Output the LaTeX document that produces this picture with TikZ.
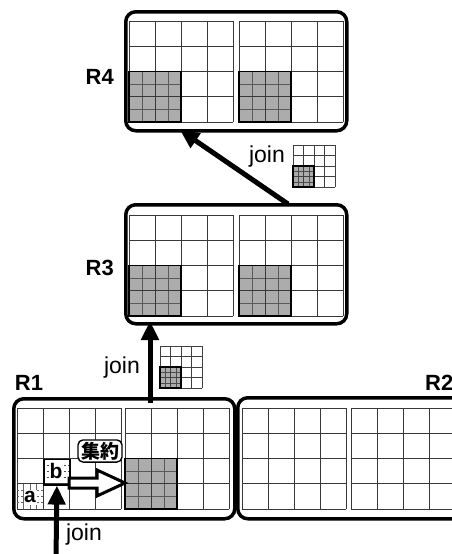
\documentclass[tikz,border=0pt]{standalone}
\usepackage{fontspec}
\setmainfont{Liberation Sans}
\newfontfamily\cjk{Noto Sans CJK JP}
\usetikzlibrary{arrows.meta}
\definecolor{blockgray}{RGB}{172,172,172}
\tikzset{
  gridline/.style={line width=0.9pt, draw=black!78},
  subline/.style={line width=0.7pt, draw=black!65},
  blockedge/.style={line width=1.8pt, draw=black},
  regionbox/.style={draw, line width=3.5pt, rounded corners=10pt, inner sep=0pt,
    anchor=north west, minimum width=221pt, minimum height=119pt},
  reglabel/.style={font=\fontsize{22}{24}\selectfont\bfseries, inner sep=0pt},
  joinlabel/.style={font=\fontsize{23}{25}\selectfont, inner sep=0pt},
  celllabel/.style={font=\fontsize{21}{23}\selectfont\bfseries, fill=white, inner sep=0pt},
  bigarrow/.style={line width=5pt, -{Triangle[width=17pt,length=19pt]}},
  hollowarrow/.style={draw, fill=white, line width=3pt, line join=miter},
  taglabel/.style={draw, line width=1.4pt, rounded corners=5pt, fill=white,
    font=\cjk\fontsize{19}{21}\selectfont\bfseries, inner xsep=3pt, inner ysep=2pt}
}
% one 4x4 tile (104 x 101); #3=1 adds the shaded 2x2 block with its 4x4 sub-cells
\newcommand\tile[3]{%
  \begin{scope}[shift={(#1,#2)}]
    \ifnum#3=1
      \fill[blockgray] (0,50.5) rectangle (52,101);
      \foreach \k in {1,2,3} {
        \draw[subline] (\k*13,50.5) -- (\k*13,101);
        \draw[subline] (0,50.5+\k*12.625) -- (52,50.5+\k*12.625);
      }
    \fi
    \foreach \k in {0,...,4} {
      \draw[gridline] (\k*26,0) -- (\k*26,101);
      \draw[gridline] (0,\k*25.25) -- (104,\k*25.25);
    }
    \ifnum#3=1 \draw[blockedge] (0,50.5) rectangle (52,101); \fi
  \end{scope}}
% small 4x4 tile used beside the join arrows
\newcommand\minitile[2]{%
  \begin{scope}[shift={(#1,#2)}]
    \fill[blockgray] (0,21) rectangle (21,42);
    \foreach \k in {1,2,3} {
      \draw[line width=0.5pt, black!70] (\k*5.25,21) -- (\k*5.25,42);
      \draw[line width=0.5pt, black!70] (0,21+\k*5.25) -- (21,21+\k*5.25);
    }
    \foreach \k in {0,...,4} {
      \draw[line width=0.7pt, black!75] (\k*10.5,0) -- (\k*10.5,42);
      \draw[line width=0.7pt, black!75] (0,\k*10.5) -- (42,\k*10.5);
    }
    \draw[line width=1.5pt] (0,21) rectangle (21,42);
  \end{scope}}
\begin{document}
\begin{tikzpicture}[x=1pt, y=-1pt]
  \useasboundingbox (0,0) rectangle (452,554);
  \clip (0,0) rectangle (452,554);

  % region boxes
  \node[regionbox] (R4) at (124,10) {};
  \node[regionbox] (R3) at (124,203) {};
  \node[regionbox, minimum height=120pt] (R1) at (12,397) {};
  \node[regionbox, minimum height=121pt, minimum width=240pt] (R2) at (236,396) {};

  % tiles
  \tile{129}{21}{1}  \tile{239}{21}{1}
  \tile{129}{215}{1} \tile{239}{215}{1}
  \tile{17}{408}{0}  \tile{125}{408}{1}
  \tile{242}{408}{0} \tile{351}{408}{0}

  % region names
  \node[reglabel, anchor=east] (nR4) at (114,77) {R4};
  \node[reglabel, anchor=east] (nR3) at (114,268) {R3};
  \node[reglabel] (nR1) at (29,383) {R1};
  \node[reglabel, anchor=west] (nR2) at (425,383) {R2};

  % cell a: sub-cells inside the lower-left cell
  \foreach \k in {1,2,3} {
    \draw[line width=0.5pt, black!60] (17+\k*6.5,483.75) -- (17+\k*6.5,509);
    \draw[line width=0.5pt, black!60, dash pattern=on 2pt off 2pt] (17,483.75+\k*6.3) -- (43,483.75+\k*6.3);
  }
  \node[celllabel, minimum width=13pt, minimum height=15pt] (la) at (30,497) {a};

  % cell b: sub-cells and its thick outline
  \foreach \k in {1,2,3} {
    \draw[line width=0.6pt, black!70, dash pattern=on 2pt off 1.5pt] (43,458.5+\k*6.3) -- (69,458.5+\k*6.3);
  }
  \node[draw, line width=1.8pt, anchor=north west, inner sep=0pt,
        minimum width=26pt, minimum height=25.25pt] (bcell) at (43,458.5) {};
  \node[celllabel, minimum width=14pt, minimum height=20pt] (lb) at (56,471) {b};

  % aggregation arrow into the shaded block
  \coordinate (aggtail) at (69,483);
  \coordinate (aggtip) at (125,483);
  \draw[hollowarrow] ([yshift=5pt]aggtail) -- ++(28,0) -- ++(0,-8) -- (aggtip)
     -- ++(-28,13) -- ++(0,-8) -- ([yshift=-5pt]aggtail) -- cycle;
  \node[taglabel] (agg) at (100,451) {集約};

  % join arrows
  \coordinate (jbase) at (56,560);
  \draw[bigarrow] (jbase) -- (bcell.south);
  \node[joinlabel] (j1) at (84,535) {join};

  \coordinate (s13) at (150,403);
  \coordinate (e13) at (150,321);
  \draw[bigarrow] (s13) -- (e13);
  \node[joinlabel] (j2) at (122,368) {join};
  \minitile{160}{346}

  \coordinate (s34) at (288,204);
  \coordinate (e34) at (180,130);
  \draw[bigarrow] (s34) -- (e34);
  \node[joinlabel] (j3) at (267,157) {join};
  \minitile{293}{145}
\end{tikzpicture}
\end{document}
